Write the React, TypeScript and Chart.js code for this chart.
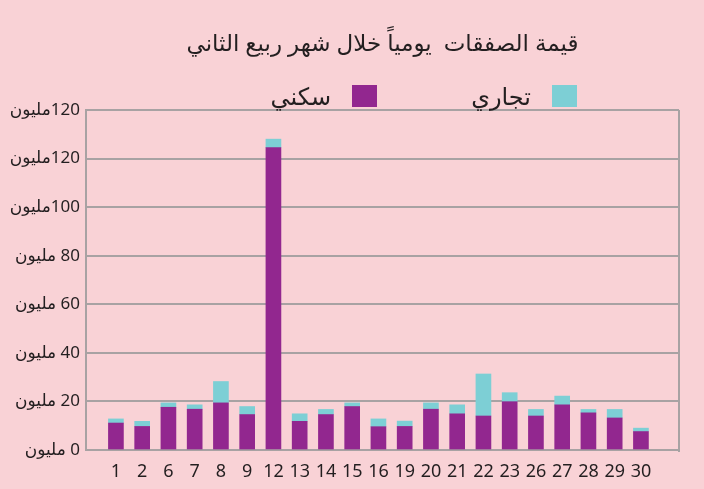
import { useEffect, useRef } from "react";
import { Chart, registerables } from "chart.js";

Chart.register(...registerables);

const titleText = "قيمة الصفقات  يومياً خلال شهر ربيع الثاني";
const seriesNames = ["سكني", "تجاري"];
const days = ["1", "2", "6", "7", "8", "9", "12", "13", "14", "15", "16", "19", "20", "21", "22", "23", "26", "27", "28", "29", "30"];
const residential = [11.1, 9.7, 17.6, 16.8, 19.4, 14.6, 124.5, 11.8, 14.6, 17.9, 9.6, 9.7, 16.8, 14.9, 14.0, 19.9, 14.0, 18.6, 15.3, 13.2, 7.6];
const commercial = [1.7, 2.1, 1.8, 1.8, 8.8, 3.3, 3.5, 3.1, 2.1, 1.5, 3.2, 2.2, 2.6, 3.7, 17.3, 3.7, 2.7, 3.6, 1.4, 3.5, 1.4];
const yTickValues = [0, 20, 40, 60, 80, 100, 120, 140];
const yTickLabels = ["0 مليون", "20 مليون", "40 مليون", "60 مليون", "80 مليون", "100مليون", "120مليون", "120مليون"];

const BG = "#f9d2d6";
const PURPLE = "#92278f";
const CYAN = "#7dcfd5";
const TEXT = "#231f20";
const GRID = "#a8a2a3";
const FONT = "'Noto Sans', 'DejaVu Sans', sans-serif";

const decorPlugin = {
  id: "decor",
  beforeDatasetsDraw(chart: any) {
    const { ctx, chartArea } = chart;
    ctx.save();
    ctx.strokeStyle = GRID;
    ctx.lineWidth = 2;
    ctx.beginPath();
    ctx.moveTo(chartArea.right, chartArea.top);
    ctx.lineTo(chartArea.right, chartArea.bottom + 2);
    ctx.stroke();
    ctx.restore();
  },
  afterDraw(chart: any) {
    const { ctx, chartArea } = chart;
    ctx.save();
    ctx.fillStyle = TEXT;
    ctx.direction = "rtl";
    ctx.font = `23px ${FONT}`;
    ctx.textAlign = "center";
    ctx.textBaseline = "middle";
    ctx.fillText(titleText, (chartArea.left + chartArea.right) / 2, 44);

    // legend: right-to-left, commercial first
    const order = [1, 0];
    let boxRight = chartArea.right - 102;
    ctx.font = `24px ${FONT}`;
    ctx.textAlign = "right";
    order.forEach((di) => {
      const ds = chart.data.datasets[di];
      const boxW = 25;
      const boxH = 22;
      ctx.fillStyle = ds.backgroundColor;
      ctx.fillRect(boxRight - boxW, 85, boxW, boxH);
      ctx.fillStyle = TEXT;
      ctx.fillText(ds.label, boxRight - boxW - 21, 98);
      boxRight -= 200;
    });
    ctx.restore();
  },
};

export default function App() {
  const canvasRef = useRef<HTMLCanvasElement | null>(null);

  useEffect(() => {
    if (!canvasRef.current) return;
    const chart = new Chart(canvasRef.current, {
      type: "bar",
      data: {
        datasets: [
          {
            label: seriesNames[0],
            data: days.map((_, i) => ({ x: i, y: residential[i] })),
            backgroundColor: PURPLE,
            barThickness: 15,
          },
          {
            label: seriesNames[1],
            data: days.map((_, i) => ({ x: i, y: commercial[i] })),
            backgroundColor: CYAN,
            barThickness: 15,
          },
        ],
      } as any,
      options: {
        animation: false,
        responsive: true,
        maintainAspectRatio: false,
        layout: { padding: { top: 110, right: 25, bottom: 0, left: 0 } },
        plugins: {
          legend: { display: false },
          title: { display: false },
          tooltip: { enabled: false },
        },
        scales: {
          x: {
            type: "linear",
            stacked: true,
            offset: false,
            min: -1.14,
            max: 21.45,
            afterBuildTicks: (scale: any) => {
              scale.ticks = days.map((_, i) => ({ value: i }));
            },
            afterFit: (scale: any) => {
              scale.height = 39;
            },
            grid: { display: false, drawTicks: false },
            border: { display: false },
            ticks: {
              padding: 11,
              color: TEXT,
              font: { family: FONT, size: 18 },
              maxRotation: 0,
              autoSkip: false,
              callback: (v: any) => days[v as number] ?? "",
            },
          },
          y: {
            stacked: true,
            min: 0,
            max: 140,
            afterBuildTicks: (scale: any) => {
              scale.ticks = yTickValues.map((v) => ({ value: v }));
            },
            afterFit: (scale: any) => {
              scale.width = 86;
            },
            grid: { color: GRID, lineWidth: 2, drawTicks: false },
            border: { display: true, color: GRID, width: 2 },
            ticks: {
              padding: 6,
              color: TEXT,
              font: { family: FONT, size: 17 },
              callback: (v: any) => "\u200F" + yTickLabels[yTickValues.indexOf(v as number)],
            },
          },
        },
      } as any,
      plugins: [decorPlugin],
    });
    return () => chart.destroy();
  }, []);

  return (
    <div style={{ position: "fixed", left: 0, top: 0, width: 704, height: 489, background: BG }}>
      <canvas ref={canvasRef} />
    </div>
  );
}
